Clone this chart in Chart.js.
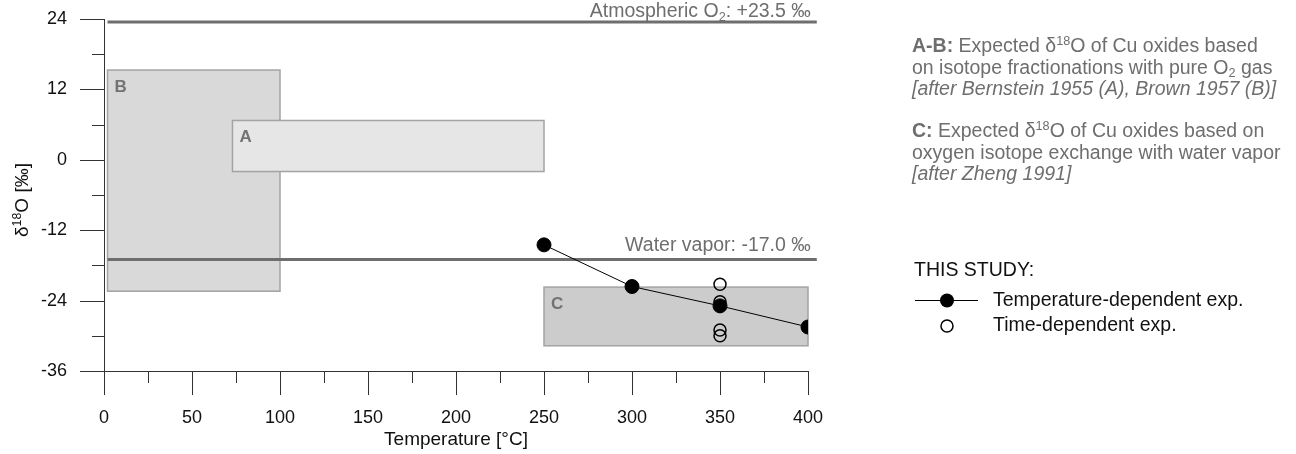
<!DOCTYPE html>
<html lang="en">
<head>
<meta charset="UTF-8">
<title>Cu oxides δ18O vs temperature</title>
<script src="https://cdn.jsdelivr.net/npm/chart.js@4.4.1/dist/chart.umd.min.js"></script>
<style>
  body { margin: 0; background: #fff; }
  .wrap { width: 1296px; height: 454px; }
</style>
</head>
<body>
<div class="wrap"><canvas id="chart"></canvas></div>
<script>
  // temperature-dependent experiments
  const tempC = [250, 300, 350, 400];
  const tempD18O = [-14.5, -21.6, -24.9, -28.5];

  // time-dependent experiments, all run at 350 °C
  const timeC = [350, 350, 350, 350];
  const timeD18O = [-21.2, -24.2, -29.0, -30.0];

  // oxygen sources (horizontal reference lines)
  const refNames = ['Atmospheric O_{2}', 'Water vapor'];
  const refD18O = [23.5, -17.0];
  const refFromC = [2, 2];
  const refToC = [405, 405];

  // expected fields from the literature
  const fieldNames = ['B', 'A', 'C'];
  const fieldMinC = [2, 73, 250];
  const fieldMaxC = [100, 250, 400];
  const fieldMinD = [-22.4, -2.0, -31.7];
  const fieldMaxD = [15.3, 6.7, -21.7];

  const xTickValues = [0, 50, 100, 150, 200, 250, 300, 350, 400];
  const yTickValues = [-36, -24, -12, 0, 12, 24];

  const FAMILY = '"Liberation Sans", Arial, Helvetica, sans-serif';
  const GREY = '#6e6e6e';
  const fieldFill = { A: '#e6e6e6', B: '#d9d9d9', C: '#cccccc' };

  // side notes, one entry per line
  const notes = [
    { x: 912, y: 52, text: '**A-B:** Expected δ^{18}O of Cu oxides based', color: GREY },
    { x: 912, y: 73.5, text: 'on isotope fractionations with pure O_{2} gas', color: GREY },
    { x: 912, y: 95, text: '[after Bernstein 1955 (A), Brown 1957 (B)]', color: GREY, italic: true },
    { x: 912, y: 137, text: '**C:** Expected δ^{18}O of Cu oxides based on', color: GREY },
    { x: 912, y: 158.5, text: 'oxygen isotope exchange with water vapor', color: GREY },
    { x: 912, y: 180, text: '[after Zheng 1991]', color: GREY, italic: true },
    { x: 914, y: 276, text: 'THIS STUDY:', color: '#111' },
    { x: 993, y: 306, text: 'Temperature-dependent exp.', color: '#111' },
    { x: 993, y: 331, text: 'Time-dependent exp.', color: '#111' }
  ];

  // tiny markup: **bold**, ^{sup}, _{sub}
  function parseRich(s) {
    return s.split(/(\*\*[^*]*\*\*|\^\{[^}]*\}|_\{[^}]*\})/).filter(t => t).map(t => {
      if (t.startsWith('**')) return { t: t.slice(2, -2), bold: true };
      if (t.startsWith('^{')) return { t: t.slice(2, -1), sup: true };
      if (t.startsWith('_{')) return { t: t.slice(2, -1), sub: true };
      return { t: t };
    });
  }

  function drawRich(ctx, s, x, y, o) {
    const size = o.size || 19;
    const parts = parseRich(s).map(p => {
      const fs = (p.sup || p.sub) ? size * 0.65 : size;
      const font = (o.italic ? 'italic ' : '') + ((p.bold || o.bold) ? 'bold ' : '') + fs + 'px ' + FAMILY;
      ctx.font = font;
      return { t: p.t, font: font, w: ctx.measureText(p.t).width,
               dy: p.sup ? -size * 0.36 : (p.sub ? size * 0.18 : 0) };
    });
    const total = parts.reduce((a, p) => a + p.w, 0);
    let cx = o.align === 'right' ? x - total : (o.align === 'center' ? x - total / 2 : x);
    ctx.fillStyle = o.color || '#111';
    ctx.textAlign = 'left';
    ctx.textBaseline = 'alphabetic';
    parts.forEach(p => {
      ctx.font = p.font;
      ctx.fillText(p.t, cx, y + p.dy);
      cx += p.w;
    });
  }

  function seg(ctx, x1, y1, x2, y2) {
    ctx.beginPath();
    ctx.moveTo(x1, y1);
    ctx.lineTo(x2, y2);
    ctx.stroke();
  }

  const overlay = {
    id: 'overlay',
    beforeDatasetsDraw(chart) {
      const ctx = chart.ctx, xs = chart.scales.x, ys = chart.scales.y;
      ctx.save();
      fieldNames.forEach((name, i) => {
        const l = xs.getPixelForValue(fieldMinC[i]), r = xs.getPixelForValue(fieldMaxC[i]);
        const t = ys.getPixelForValue(fieldMaxD[i]), b = ys.getPixelForValue(fieldMinD[i]);
        ctx.fillStyle = fieldFill[name];
        ctx.fillRect(l, t, r - l, b - t);
        ctx.strokeStyle = '#a3a3a3';
        ctx.lineWidth = 1.5;
        ctx.strokeRect(l, t, r - l, b - t);
        drawRich(ctx, '**' + name + '**', l + 7, t + 22, { size: 17, color: '#737373' });
      });
      ctx.restore();
    },
    afterDraw(chart) {
      const ctx = chart.ctx, xs = chart.scales.x, ys = chart.scales.y, area = chart.chartArea;
      ctx.save();

      // major and minor ticks, outside the frame
      ctx.strokeStyle = '#333';
      ctx.lineWidth = 1;
      xTickValues.forEach((v, i) => {
        const px = Math.round(xs.getPixelForValue(v)) + 0.5;
        seg(ctx, px, area.bottom, px, area.bottom + 24);
        if (i < xTickValues.length - 1) {
          const pm = Math.round(xs.getPixelForValue((v + xTickValues[i + 1]) / 2)) + 0.5;
          seg(ctx, pm, area.bottom, pm, area.bottom + 12);
        }
      });
      yTickValues.forEach((v, i) => {
        const py = Math.round(ys.getPixelForValue(v)) + 0.5;
        seg(ctx, area.left - 24, py, area.left, py);
        if (i < yTickValues.length - 1) {
          const pm = Math.round(ys.getPixelForValue((v + yTickValues[i + 1]) / 2)) + 0.5;
          seg(ctx, area.left - 12, pm, area.left, pm);
        }
      });

      // labels on the reference lines (kept inside the canvas near the top)
      refNames.forEach((name, i) => {
        const v = refD18O[i];
        const txt = name + ': ' + (v > 0 ? '+' : '') + v.toFixed(1) + ' ‰';
        const by = Math.max(ys.getPixelForValue(v) - 9, 17);
        drawRich(ctx, txt, xs.getPixelForValue(refToC[i]) - 6, by,
                 { size: 19.5, color: GREY, align: 'right' });
      });

      // y axis title
      ctx.save();
      ctx.translate(28, (area.top + area.bottom) / 2 + 5);
      ctx.rotate(-Math.PI / 2);
      drawRich(ctx, 'δ^{18}O [‰]', 0, 0, { size: 19, color: '#111', align: 'center' });
      ctx.restore();

      // side notes and legend
      notes.forEach(n => drawRich(ctx, n.text, n.x, n.y, { size: 19.5, color: n.color, italic: n.italic }));
      ctx.strokeStyle = '#000';
      ctx.lineWidth = 1.2;
      seg(ctx, 915, 300.5, 978, 300.5);
      ctx.fillStyle = '#000';
      ctx.beginPath(); ctx.arc(947, 300.5, 7, 0, Math.PI * 2); ctx.fill();
      ctx.lineWidth = 1.5;
      ctx.beginPath(); ctx.arc(947, 326, 6, 0, Math.PI * 2); ctx.stroke();

      ctx.restore();
    }
  };

  const refSets = refNames.map((name, i) => ({
    type: 'line',
    label: name,
    data: [{ x: refFromC[i], y: refD18O[i] }, { x: refToC[i], y: refD18O[i] }],
    borderColor: GREY,
    borderWidth: 3,
    pointRadius: 0,
    clip: false,
    order: 3
  }));

  new Chart(document.getElementById('chart'), {
    type: 'scatter',
    data: {
      datasets: [
        {
          label: 'Temperature-dependent exp.',
          data: tempC.map((c, i) => ({ x: c, y: tempD18O[i] })),
          showLine: true,
          borderColor: '#000',
          borderWidth: 1,
          pointRadius: 7,
          pointBackgroundColor: '#000',
          pointBorderColor: '#000',
          order: 1
        },
        {
          label: 'Time-dependent exp.',
          data: timeC.map((c, i) => ({ x: c, y: timeD18O[i] })),
          pointRadius: 6,
          pointBackgroundColor: 'rgba(0,0,0,0)',
          pointBorderColor: '#000',
          pointBorderWidth: 1.5,
          order: 2
        },
        ...refSets
      ]
    },
    options: {
      responsive: true,
      maintainAspectRatio: false,
      animation: false,
      layout: { padding: { top: 19, right: 488, bottom: 0, left: 0 } },
      plugins: { legend: { display: false }, tooltip: { enabled: false } },
      scales: {
        x: {
          type: 'linear',
          min: 0,
          max: 400,
          afterBuildTicks: s => { s.ticks = xTickValues.map(v => ({ value: v })); },
          afterFit: s => { s.height = 83; s.paddingLeft = 0; s.paddingRight = 0; },
          ticks: { font: { family: FAMILY, size: 18 }, color: '#111', padding: 12, maxRotation: 0 },
          grid: { drawOnChartArea: false, drawTicks: true, tickLength: 24, color: 'rgba(0,0,0,0)' },
          border: { display: true, color: '#333', width: 1 },
          title: { display: true, text: 'Temperature [°C]', font: { family: FAMILY, size: 19 }, color: '#111', padding: { top: 0, bottom: 3 } }
        },
        y: {
          type: 'linear',
          min: -36,
          max: 24,
          afterBuildTicks: s => { s.ticks = yTickValues.map(v => ({ value: v })); },
          afterFit: s => { s.width = 104; s.paddingTop = 0; s.paddingBottom = 0; },
          ticks: { font: { family: FAMILY, size: 18 }, color: '#111', padding: 13 },
          grid: { drawOnChartArea: false, drawTicks: true, tickLength: 24, color: 'rgba(0,0,0,0)' },
          border: { display: true, color: '#333', width: 1 }
        }
      }
    },
    plugins: [overlay]
  });
</script>
</body>
</html>
